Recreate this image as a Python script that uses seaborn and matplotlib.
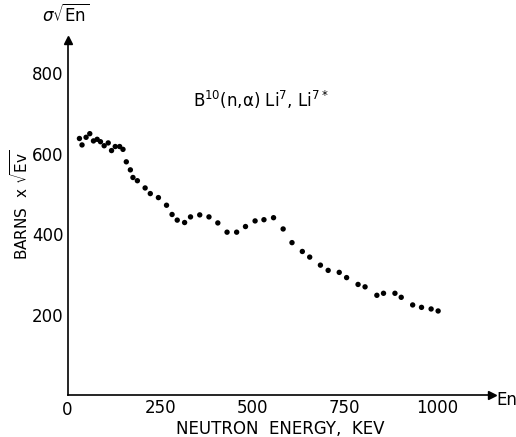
import numpy as np
import pandas as pd
import matplotlib
matplotlib.use('Agg')
import matplotlib.pyplot as plt
import seaborn as sns

# Lexuar nga grafiku: energjia e neutronit (keV) dhe sigma*sqrt(E)
energy_kev = [31, 38, 49, 59, 69, 79, 88, 98, 109, 118, 128, 140, 149,
              158, 169, 176, 188, 209, 223, 245, 267, 282, 296, 316, 332,
              357, 382, 406, 431, 457, 481, 507, 531, 557, 583, 607, 635,
              655, 684, 705, 735, 755, 786, 805, 837, 855, 886, 903, 934,
              958, 984, 1003]
sigma_sqrt_e = [638, 622, 641, 650, 632, 636, 630, 620, 627, 608, 618, 618, 611,
                580, 560, 541, 533, 515, 501, 491, 472, 449, 435, 429, 443,
                448, 443, 428, 405, 405, 419, 433, 436, 441, 413, 379, 357,
                343, 323, 310, 305, 292, 275, 269, 248, 253, 253, 243, 224,
                218, 214, 209]

x_ticks = [250, 500, 750, 1000]
y_ticks = [200, 400, 600, 800]

df = pd.DataFrame({'E': energy_kev, 'S': sigma_sqrt_e})

sns.set_theme(style='white')
plt.rcParams['font.family'] = ['DejaVu Sans']
plt.rcParams['mathtext.fontset'] = 'dejavusans'
plt.rcParams['text.color'] = 'black'
plt.rcParams['axes.labelcolor'] = 'black'

fig = plt.figure(figsize=(5.16, 4.37), dpi=100)
ax = fig.add_axes([68 / 516, 42 / 437, 424 / 516, 355 / 437])

sns.scatterplot(data=df, x='E', y='S', ax=ax, color='black', s=15,
                edgecolor='none', legend=False)

ax.set_xlim(0, 1149)
ax.set_ylim(0, 883)
ax.set_xticks(x_ticks)
ax.set_yticks(y_ticks)
ax.tick_params(direction='in', length=6, width=1, colors='black',
               labelsize=12, pad=3)
for s in ['top', 'right']:
    ax.spines[s].set_visible(False)
for s in ['left', 'bottom']:
    ax.spines[s].set_color('black')
    ax.spines[s].set_linewidth(1.2)

# shigjetat e boshteve
ax.plot(1, 0, '>', color='black', ms=6, transform=ax.transAxes, clip_on=False)
ax.plot(0, 1, '^', color='black', ms=6, transform=ax.transAxes, clip_on=False)

ax.set_xlabel('NEUTRON  ENERGY,  KEV', fontsize=12, labelpad=2, color='black')
ax.set_ylabel('')
fig.text(20 / 516, 1 - 205 / 437, r'BARNS  x $\sqrt{\mathrm{Ev}}$',
         rotation=90, fontsize=11, ha='center', va='center', color='black')
fig.text(67 / 516, 1 - 410 / 437, '0', fontsize=12, ha='center', va='center',
         color='black')
fig.text(496 / 516, 1 - 400 / 437, 'En', fontsize=12, ha='left', va='center',
         color='black')
fig.text(66 / 516, 1 - 15 / 437, r'$\sigma\sqrt{\mathrm{En}}$', fontsize=12,
         ha='center', va='center', color='black')

ax.text(339, 733, r'B$^{10}$(n,$\mathrm{\alpha}$) Li$^{7}$, Li$^{7*}$',
        fontsize=12, ha='left', va='center', color='black')

fig.savefig('out.png', dpi=100)
